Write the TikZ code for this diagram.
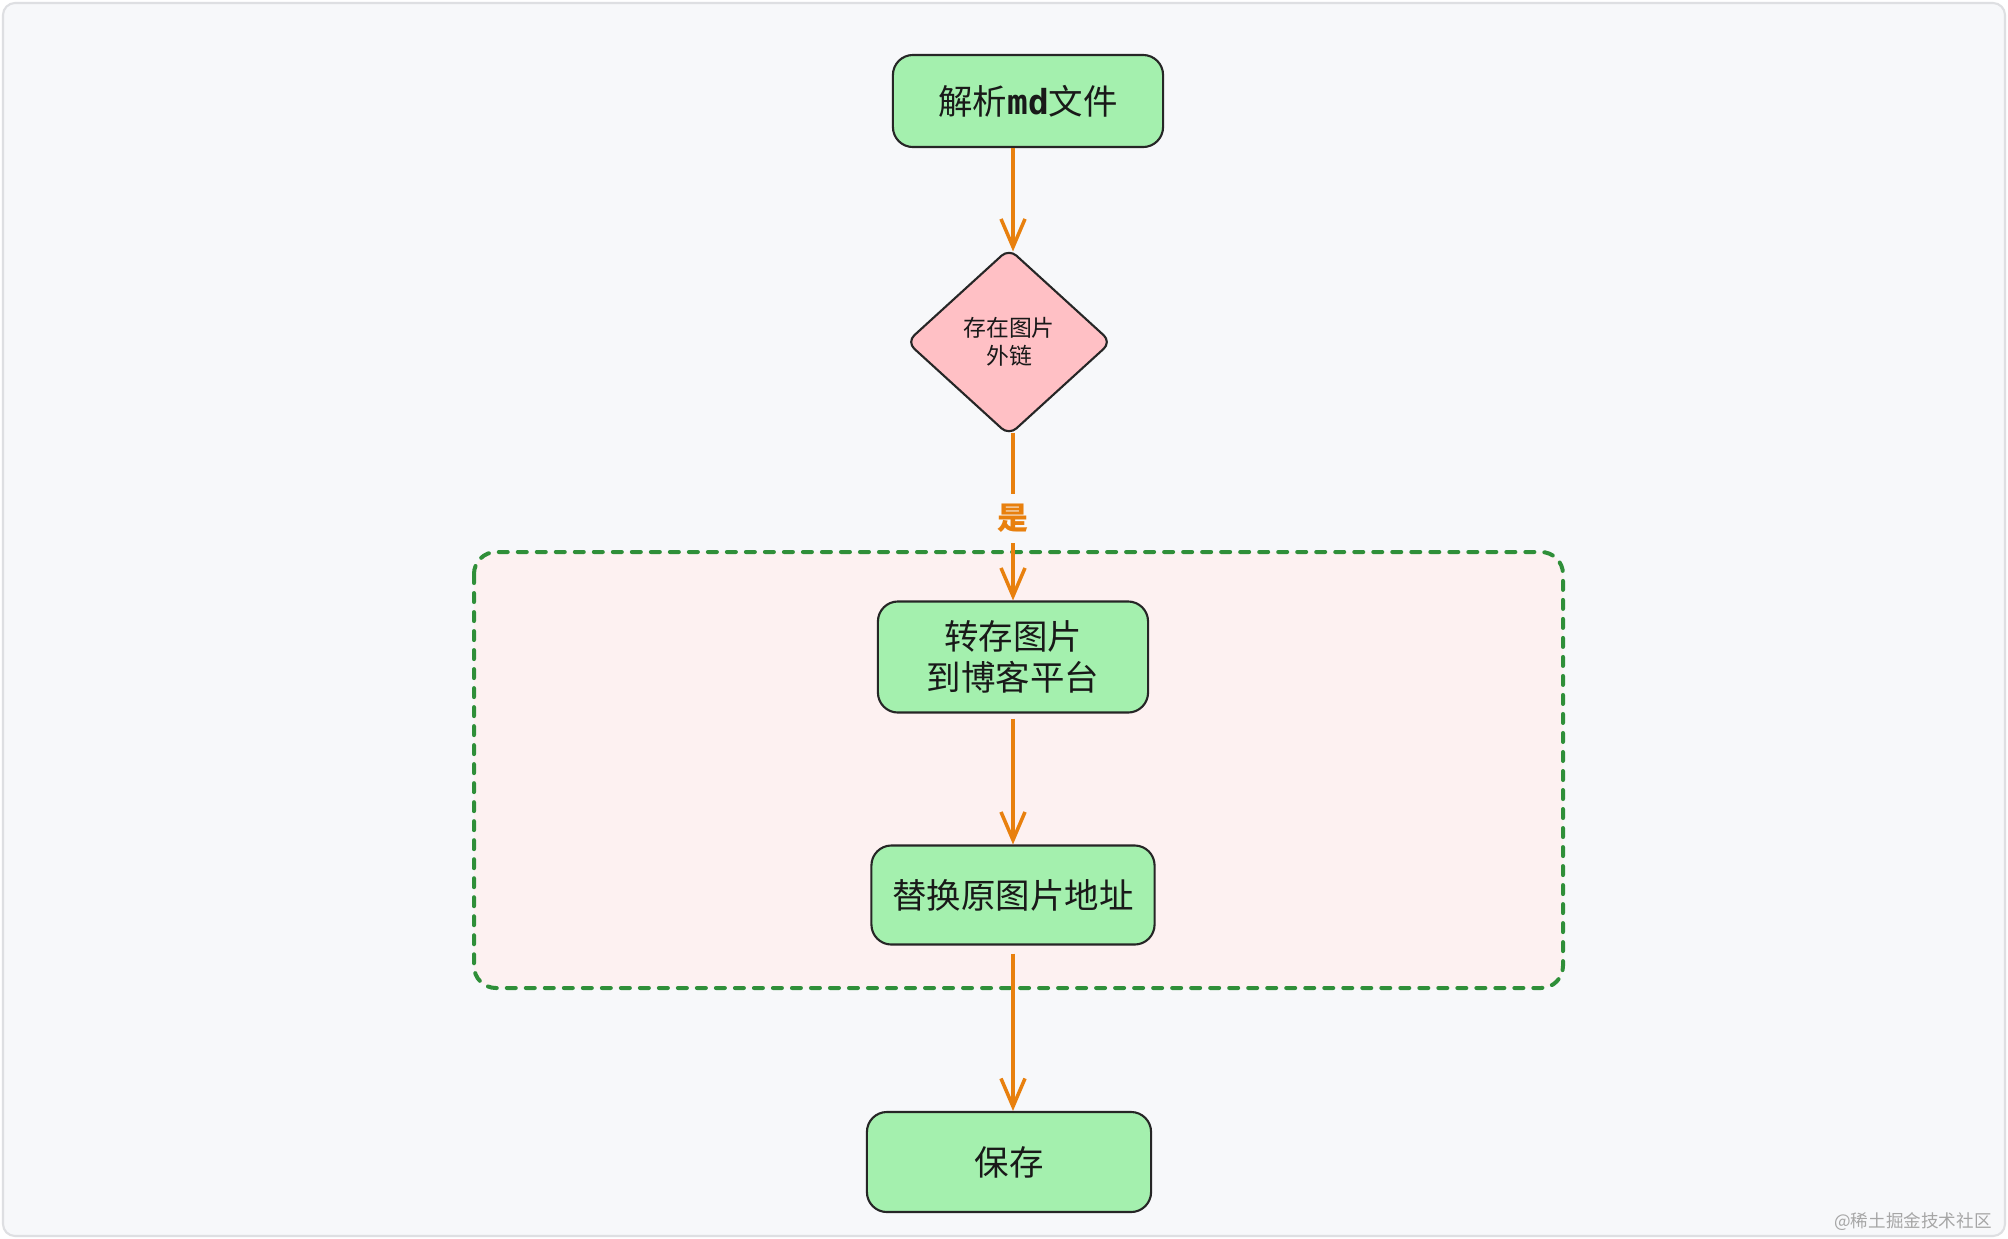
\documentclass[tikz,border=0pt]{standalone}
\usepackage{fontspec}
\setmainfont{Noto Sans CJK SC}
\newfontfamily\monobold{DejaVu Sans Mono}
\usetikzlibrary{shapes.geometric,arrows.meta}

\definecolor{pagebg}{HTML}{F7F8FA}
\definecolor{frame}{HTML}{DEDFE2}
\definecolor{boxgreen}{HTML}{A4F0AE}
\definecolor{condpink}{HTML}{FFC0C5}
\definecolor{floworange}{HTML}{E8800E}
\definecolor{groupgreen}{HTML}{2F8F39}
\definecolor{grouppink}{HTML}{FDF1F1}

\begin{document}
\begin{tikzpicture}[x=0.01cm, y=-0.01cm,
  main/.style = {draw=black!85, fill=boxgreen, line width=0.6pt, rounded corners=0.2cm, minimum width=2.7cm, align=center, text=black!90, font=\fontsize{9.8}{11.7}\selectfont},
  cond/.style = {diamond, draw=black!85, fill=condpink, line width=0.6pt, rounded corners=0.1cm, minimum width=2.05cm, minimum height=1.87cm, inner sep=0pt, align=center, text=black!90, font=\fontsize{6.5}{8}\selectfont},
  flow/.style = {draw=floworange, line width=1pt, -{Straight Barb[length=0.28cm,width=0.24cm]}},
  lbl/.style = {fill=pagebg, text=floworange, inner xsep=0.02cm, inner ysep=0.1cm, font=\fontsize{8.8}{10}\selectfont\bfseries},
  group/.style = {draw=groupgreen, fill=grouppink, line width=0.04cm, line cap=round, dash pattern=on 0.09cm off 0.1cm, rounded corners=0.22cm}]
% page
\useasboundingbox (0,0) rectangle (2008,1238);
\fill[white] (0,0) rectangle (2008,1238);
\draw[draw=frame, fill=pagebg, line width=0.6pt, rounded corners=0.12cm] (3,3) rectangle (2005,1236);
% group
\draw[group] (474,552) rectangle (1563,988);
% nodes
\node[main, minimum height=0.92cm] (1) at (1028,101) {解析{\monobold\bfseries md}文件};
\node[cond] (2) at (1009,342) {存在图片\\外链};
\node[main, minimum height=1.11cm] (3) at (1013,657) {转存图片\\到博客平台};
\node[main, minimum width=2.83cm, minimum height=0.99cm] (4) at (1013,895) {替换原图片地址};
\node[main, minimum width=2.84cm, minimum height=1cm] (5) at (1009,1162) {保存};
% arrows
\draw[flow, shorten >=-0.04cm] (1.south -| 3) -- (2.north -| 3);
\draw[flow, shorten <=-0.04cm] (2.south -| 3) -- node[lbl] {是} (3);
\draw[flow, shorten <=0.05cm] (3) -- (4);
\draw[flow, shorten <=0.08cm] (4.south -| 3) -- (5.north -| 3);
% watermark
\node[anchor=east, text=black!35, font=\fontsize{5}{6}\selectfont] (wm) at (2004,1222) {@稀土掘金技术社区};
\end{tikzpicture}
\end{document}
